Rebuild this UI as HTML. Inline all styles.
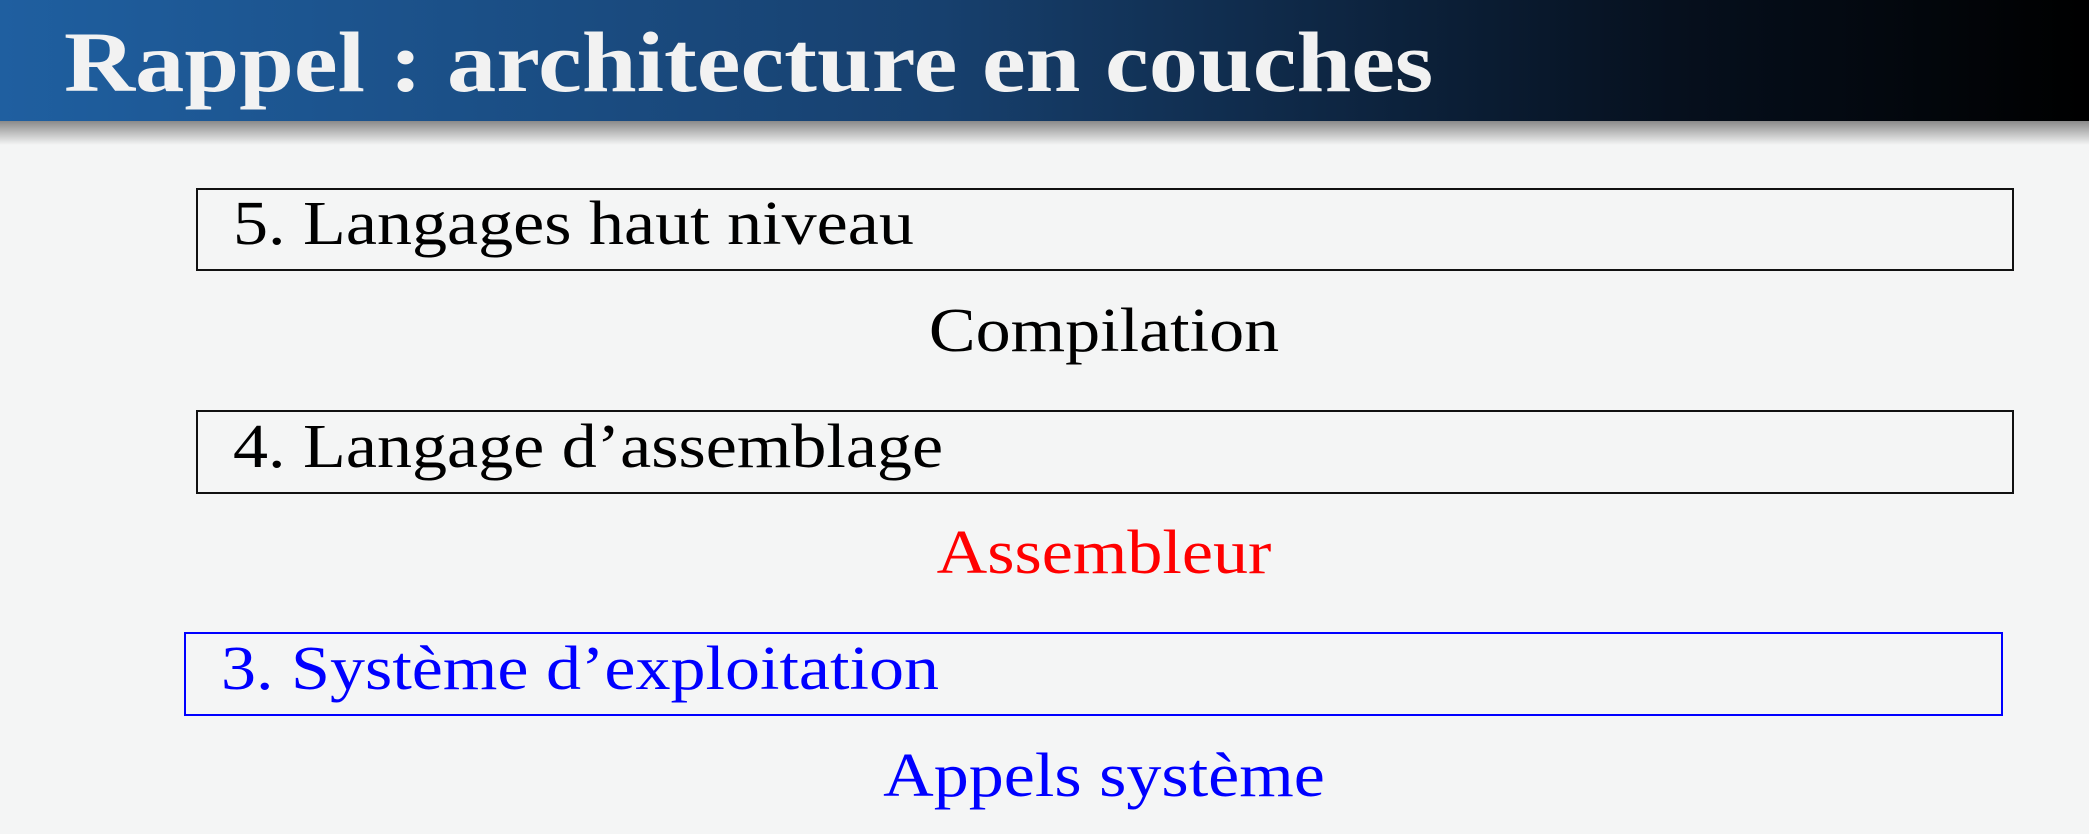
<!DOCTYPE html>
<html><head><meta charset="utf-8"><style>
body{margin:0;width:2089px;height:834px;background:#f4f5f5;position:relative;overflow:hidden;font-family:"Liberation Serif",serif}
.hd{position:absolute;left:0;top:0;width:2089px;height:121px;background:linear-gradient(90deg,#1f5fa0 0%,#17406e 45%,#06101e 80%,#000 100%)}
.sh{position:absolute;left:0;top:121px;width:2089px;height:24px;background:linear-gradient(#8a8a8a,#f4f5f5)}
.t{position:absolute;white-space:nowrap;line-height:1;transform:scaleX(1.13);transform-origin:left center;font-size:62px}
.c{transform-origin:center center}
.box{position:absolute;border:2px solid #111;box-sizing:border-box}
</style></head><body>
<div class="hd"></div><div class="sh"></div>
<div class="t" style="left:64px;top:19px;font-size:86px;font-weight:bold;color:#f2f2f2;transform:scaleX(1.145)">Rappel : architecture en couches</div>
<div class="box" style="left:196px;top:188px;width:1818px;height:83px"></div>
<div class="t" style="left:233px;top:193px">5. Langages haut niveau</div>
<div class="t c" style="left:0;width:2208px;text-align:center;top:300px">Compilation</div>
<div class="box" style="left:196px;top:410px;width:1818px;height:84px"></div>
<div class="t" style="left:233px;top:416px">4. Langage d’assemblage</div>
<div class="t c" style="left:0;width:2208px;text-align:center;top:522px;color:#f00">Assembleur</div>
<div class="box" style="left:184px;top:632px;width:1819px;height:84px;border-color:#00f"></div>
<div class="t" style="left:221px;top:638px;color:#00f">3. Système d’exploitation</div>
<div class="t c" style="left:0;width:2208px;text-align:center;top:745px;color:#00f">Appels système</div>
</body></html>
